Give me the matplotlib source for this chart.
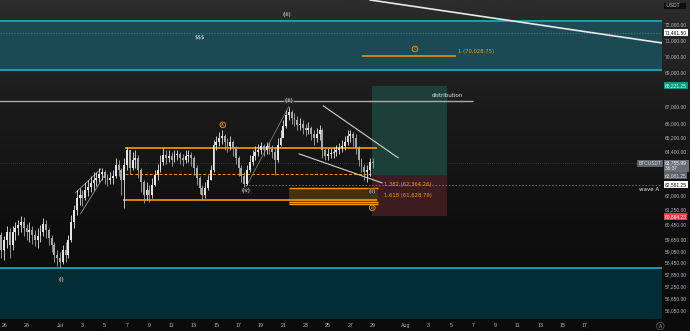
import numpy as np
import pandas as pd
import matplotlib
matplotlib.use('Agg')
import matplotlib.pyplot as plt
import matplotlib.dates as mdates
from matplotlib.patches import Rectangle
from matplotlib.colors import LinearSegmentedColormap

# ---------------- data ----------------
first_open = 60050
closes = [59890, 59110, 59630, 60050, 59370, 60050, 60260, 60420, 60580, 60260,
          60050, 60150, 59890, 59630, 59840, 60050, 60470, 60150, 59740, 59370,
          58860, 58700, 58500, 59110, 58860, 59630, 60580, 61210, 61860, 62020,
          61860, 62290, 62460, 62670, 62840, 62950, 63170, 63280, 62950, 62840,
          62950, 63060, 63670, 63390, 62840, 63670, 64500, 63500, 63940, 64060,
          63390, 62730, 62020, 62290, 62020, 62560, 63110, 63390, 63830, 64220,
          64060, 64170, 63940, 64220, 64280, 64060, 63940, 64170, 64220, 64060,
          63500, 62950, 62400, 62020, 62400, 62840, 63390, 64790, 64960, 65180,
          65300, 64960, 64730, 64960, 64620, 64060, 63500, 63060, 62620, 63390,
          63830, 64170, 64390, 64500, 64730, 64500, 64730, 64620, 64390, 63940,
          64790, 65180, 65870, 66500, 66680, 66330, 66220, 65930, 65990, 65750,
          65640, 65750, 65410, 65180, 65410, 65640, 64500, 64170, 64280, 64340,
          64390, 64500, 64620, 64730, 64960, 65300, 65410, 65180, 64620, 63940,
          63550, 63280, 63390, 63830, 63756]
highs = [60260, 60050, 59840, 60370, 60260, 60370, 60580, 60680, 60890, 60840,
         60470, 60580, 60370, 60150, 60260, 60420, 60790, 60680, 60260, 59890,
         59530, 59110, 59010, 59370, 59530, 59890, 60950, 61480, 62290, 62400,
         62290, 62670, 62840, 63060, 63280, 63280, 63500, 63500, 63390, 63170,
         63280, 63390, 64060, 63940, 63500, 64060, 64670, 64500, 64390, 64500,
         64220, 63500, 62840, 62730, 62560, 62950, 63390, 63720, 64220, 64620,
         64500, 64500, 64390, 64500, 64500, 64390, 64280, 64500, 64500, 64390,
         64170, 63670, 63060, 62560, 62730, 63110, 63670, 65070, 65300, 65530,
         65640, 65410, 65180, 65300, 65070, 64730, 64170, 63670, 63280, 63670,
         64220, 64500, 64730, 64840, 64960, 64840, 64960, 64960, 64790, 64620,
         65180, 65640, 66220, 66800, 66970, 66800, 66620, 66450, 66330, 66220,
         65990, 66100, 65870, 65640, 65750, 65930, 65750, 64620, 64620, 64620,
         64670, 64790, 64900, 65070, 65300, 65640, 65640, 65530, 65410, 64730,
         64060, 63720, 63670, 64060, 64060]
lows = [59370, 58700, 58600, 59220, 58700, 59110, 59630, 59890, 60050, 59840,
        59630, 59530, 59420, 59320, 59220, 59530, 59840, 59740, 59370, 59010,
        58500, 58290, 58190, 58400, 58500, 58700, 59530, 60260, 60950, 61480,
        61430, 61750, 61970, 62180, 62290, 62510, 62730, 62840, 62620, 62510,
        62620, 62620, 62950, 63060, 62020, 61320, 63390, 63170, 63390, 63500,
        62950, 62180, 61590, 61750, 61640, 61860, 62510, 62840, 63280, 63670,
        63720, 63830, 63610, 63830, 63940, 63720, 63610, 63780, 63830, 63610,
        63110, 62560, 62080, 61750, 61860, 62290, 62840, 63280, 64500, 64730,
        64840, 64500, 64390, 64500, 64170, 63720, 63060, 62730, 62460, 62560,
        63280, 63670, 63940, 64170, 64280, 64170, 64280, 64280, 64060, 63110,
        63830, 64730, 65300, 65750, 66220, 65990, 65870, 65640, 65640, 65410,
        65300, 65410, 65070, 64790, 64960, 65070, 64060, 63940, 63940, 64060,
        64060, 64170, 64280, 64390, 64500, 64790, 64960, 64730, 64280, 63610,
        63280, 62840, 62730, 63060, 63500]

upper_zone = (69168, 72189)
lower_zone_top = 58180
zone_mid_line = 71461.50
distribution_level = 67322
target_c = 70028.75
range_high = 64616
range_low = 61750
range_mid = 63166
wave_a_level = 62561.25
fib_1382 = 62364.26
fib_1618 = 61628.79
pos_entry = 63081.25
pos_target = 68221.25
pos_stop = 60864.23
last_price = 63755.99
countdown = "36:37"

axis_ticks = [72000, 71000, 70000, 69000, 67000, 66000, 65200, 64400, 62000,
              61250, 60450, 59650, 59050, 58450, 57850, 57250, 56650, 56050]
date_ticks = ["2024-06-26", "2024-06-28", "2024-07-01", "2024-07-03", "2024-07-05",
              "2024-07-07", "2024-07-09", "2024-07-11", "2024-07-13", "2024-07-15",
              "2024-07-17", "2024-07-19", "2024-07-21", "2024-07-23", "2024-07-25",
              "2024-07-27", "2024-07-29", "2024-08-01", "2024-08-03", "2024-08-05",
              "2024-08-07", "2024-08-09", "2024-08-11", "2024-08-13", "2024-08-15",
              "2024-08-17"]
date_labels = ["26", "28", "Jul", "3", "5", "7", "9", "11", "13", "15", "17", "19",
               "21", "23", "25", "27", "29", "Aug", "3", "5", "7", "9", "11", "13",
               "15", "17"]

# ---------------- figure ----------------
fig = plt.figure(figsize=(6.9, 3.31), dpi=100)
bg = fig.add_axes([0, 0, 1, 1])
bg.axis('off')
cm = LinearSegmentedColormap.from_list('g', ['#2c2c2c', '#1a1a1a', '#0f0f0f', '#0b0b0b'])
bg.imshow(np.linspace(0, 1, 256).reshape(-1, 1), aspect='auto', cmap=cm,
          extent=[0, 1, 0, 1], origin='upper')

ax = fig.add_axes([0, 12/331, 662/690, 319/331])
ax.patch.set_alpha(0)
ax.set_yscale('log')

def D(s):
    return mdates.date2num(pd.Timestamp(s))

times = pd.date_range('2024-06-25 12:00', periods=len(closes), freq='6h')
tn = mdates.date2num(times)
ax.set_xlim(D('2024-06-25 15:00'), D('2024-08-23 22:00'))
ax.set_ylim(55646, 73524)

ORANGE = '#ff9800'
TEAL_LINE = '#1fa3b5'
AXF = 'Liberation Sans'
FS = 3.5

# zones
ax.axhspan(upper_zone[0], upper_zone[1], color='#1b4a54', zorder=0)
ax.axhline(upper_zone[0], color=TEAL_LINE, lw=1.3, zorder=1)
ax.axhline(upper_zone[1], color=TEAL_LINE, lw=1.3, zorder=1)
ax.axhline(zone_mid_line, color='#4f8b91', lw=0.5, ls=(0, (2, 2)), zorder=1)
ax.axhspan(50000, lower_zone_top, color='#022d36', zorder=0)
ax.axhline(lower_zone_top, color=TEAL_LINE, lw=1.3, zorder=1)

# current price line
ax.axhline(last_price, color='#5d606b', lw=0.5, ls=(0, (1, 2)), zorder=1)

# position box
ax.add_patch(Rectangle((D('2024-07-28 23:00'), pos_entry), D('2024-08-04 16:00') - D('2024-07-28 23:00'),
                       pos_target - pos_entry, facecolor='#1c3f37', edgecolor='none', zorder=1))
ax.add_patch(Rectangle((D('2024-07-28 23:00'), pos_stop), D('2024-08-04 16:00') - D('2024-07-28 23:00'),
                       pos_entry - pos_stop, facecolor='#3d1c1f', edgecolor='none', zorder=1))

# distribution line
ax.hlines(distribution_level, D('2024-06-25'), D('2024-08-07 00:00'), color='#aaaaaa', lw=1, zorder=2)
ax.text(D('2024-08-04 16:00'), distribution_level * 1.0025, 'distribution', color='#e6e6e6',
        fontsize=4.0, ha='center', va='bottom', zorder=5)

# C target
ax.hlines(target_c, D('2024-07-28 01:00'), D('2024-08-05 11:00'), color=ORANGE, lw=1.1, zorder=2)
ax.text(D('2024-08-05 16:00'), target_c * 1.0015, '1 (70,028.75)', color=ORANGE, fontsize=3.8,
        ha='left', va='bottom', zorder=5)

# diagonal white line
ax.plot([D('2024-07-28 19:00'), D('2024-08-23 22:00')], [73524, 70816], color='#e8e8e8', lw=1.2,
        zorder=2, clip_on=True)

# range lines
ax.hlines(range_high, D('2024-07-06 20:00'), D('2024-07-29 10:00'), color=ORANGE, lw=1.2, zorder=2)
ax.hlines(range_low, D('2024-07-06 16:00'), D('2024-07-29 10:00'), color=ORANGE, lw=1.2, zorder=2)
ax.hlines(range_mid, D('2024-07-06 20:00'), D('2024-07-28 23:00'), color=ORANGE, lw=0.7,
          ls=(0, (3, 2)), zorder=2)

# wave A level
ax.hlines(wave_a_level, D('2024-07-17 14:00'), D('2024-08-23 22:00'), color='#7a7a7a', lw=0.6,
          ls=(0, (2, 2)), zorder=2)
ax.text(0.995, wave_a_level * 0.9985, 'wave A', transform=ax.get_yaxis_transform(), color='#e6e6e6',
        fontsize=4.0, ha='right', va='top', zorder=5)

# fib zone
ax.add_patch(Rectangle((D('2024-07-21 12:00'), 61530), D('2024-07-29 12:00') - D('2024-07-21 12:00'),
                       fib_1382 - 61530, facecolor='#4a3512', edgecolor='none', alpha=0.9, zorder=1))
ax.hlines([fib_1382, fib_1618, 61530], D('2024-07-21 12:00'), D('2024-07-29 12:00'), color=ORANGE,
          lw=1.0, zorder=2)
ax.text(D('2024-07-30 00:00'), fib_1382 * 1.001, '1.382 (62,364.26)', color=ORANGE, fontsize=3.8,
        ha='left', va='bottom', zorder=5)
ax.text(D('2024-07-30 00:00'), fib_1618 * 1.004, '1.618 (61,628.79)', color=ORANGE, fontsize=3.8,
        ha='left', va='bottom', zorder=5)

# trend lines
ax.plot([D('2024-07-24 14:00'), D('2024-07-31 07:00')], [67029, 64055], color='#d0d0d0', lw=0.8, zorder=3)
ax.plot([D('2024-07-22 10:00'), D('2024-07-29 20:00')], [64279, 62673], color='#d0d0d0', lw=0.8, zorder=3)
ax.plot([D('2024-07-02 09:00'), D('2024-07-04 16:00')], [62130, 63440], color='#9a9a9a', lw=0.6, zorder=3)
ax.plot([D('2024-07-02 20:00'), D('2024-07-05 00:00')], [61000, 63100], color='#9a9a9a', lw=0.6, zorder=3)
ax.plot([D('2024-07-17 16:00'), D('2024-07-21 12:00')], [62460, 67000], color='#8a8a8a', lw=0.5, zorder=3)

# candles
opens = [first_open] + closes[:-1]
for t, o, h, l, c in zip(tn, opens, highs, lows, closes):
    col = '#e4e4e4' if c >= o else '#a8a8a8'
    ax.vlines(t, l, h, color=col, lw=0.6, zorder=4)
    ax.add_patch(Rectangle((t - 0.085, min(o, c)), 0.17, max(abs(c - o), 8), facecolor=col,
                           edgecolor='none', zorder=4))

# wave labels
def wlab(s, x, y):
    ax.text(D(x), y, s, color='#f0f0f0', fontsize=3.8, ha='center', va='center', zorder=6,
            bbox=dict(boxstyle='round,pad=0.15', fc='#2a2a2a', ec='none', alpha=0.6))

def olab(s, x, y):
    ax.text(D(x), y, s, color=ORANGE, fontsize=3.0, ha='center', va='center', zorder=6,
            bbox=dict(boxstyle='circle,pad=0.2', fc='none', ec=ORANGE, lw=0.6))

wlab('(iii)', '2024-07-21 08:00', 72568)
wlab('(iii)', '2024-07-21 12:00', distribution_level)
wlab('(iv)', '2024-07-17 16:00', 62238)
wlab('(ii)', '2024-07-28 23:00', 62184)
wlab('(i)', '2024-07-01 02:00', 57600)
olab('A', '2024-07-15 14:00', 65927)
olab('B', '2024-07-28 23:00', 61320)
olab('C', '2024-08-01 19:00', 70446)
ax.text(D('2024-07-13 13:00'), 71126, '$$$', color='#e6e6e6', fontsize=4.0, ha='center',
        va='center', zorder=6)

# axes styling
for s in ax.spines.values():
    s.set_visible(False)
ax.yaxis.tick_right()
ax.set_yticks(axis_ticks)
ax.set_yticklabels([f'{v:,.2f}' for v in axis_ticks], fontfamily=AXF)
ax.yaxis.set_minor_locator(matplotlib.ticker.NullLocator())
ax.tick_params(axis='y', length=0, pad=2.0, labelsize=FS, labelcolor='#b2b5be')
ax.set_xticks([D(d) for d in date_ticks])
ax.set_xticklabels(date_labels, fontfamily=AXF)
ax.tick_params(axis='x', length=0, pad=3, labelsize=3.8, labelcolor='#b2b5be')
ax.grid(False)

# axis price tags
yt = ax.get_yaxis_transform()
def tag(v, txt, fc, tc):
    ax.text(1.004, v, txt, transform=yt, fontsize=FS, color=tc, ha='left', va='center', zorder=10,
            clip_on=False, family=AXF, bbox=dict(boxstyle='square,pad=0.2', fc=fc, ec='none'))

tag(73140, ' USDT    ', '#0e0e0e', '#d0d0d0')
tag(zone_mid_line, '71,461.50', '#ffffff', '#111111')
tag(pos_target, '68,221.25', '#089981', '#ffffff')
ax.text(1.004, last_price * 1.0022, '63,755.99\n' + countdown + '        ', transform=yt, fontsize=FS,
        color='#ffffff', ha='left', va='top', zorder=10, clip_on=False, linespacing=1.0, family=AXF,
        bbox=dict(boxstyle='square,pad=0.2', fc='#6a6d78', ec='none'))
tag(pos_entry, '63,081.25', '#5d606b', '#e0e0e0')
tag(wave_a_level, '62,561.25', '#ffffff', '#111111')
tag(pos_stop, '60,864.23', '#f23645', '#ffffff')
ax.text(0.999, last_price, 'BTCUSDT', transform=yt, fontsize=3.5, color='#e0e0e0', ha='right',
        va='center', zorder=10, family=AXF,
        bbox=dict(boxstyle='square,pad=0.25', fc='#5d606b', ec='none'))
fig.text(0.957, 0.015, 'A', fontsize=3.5, color='#b2b5be', ha='center', va='center',
         bbox=dict(boxstyle='circle,pad=0.25', fc='none', ec='#5d606b', lw=0.5))

fig.savefig('out.png', dpi=100, facecolor='#121212')
